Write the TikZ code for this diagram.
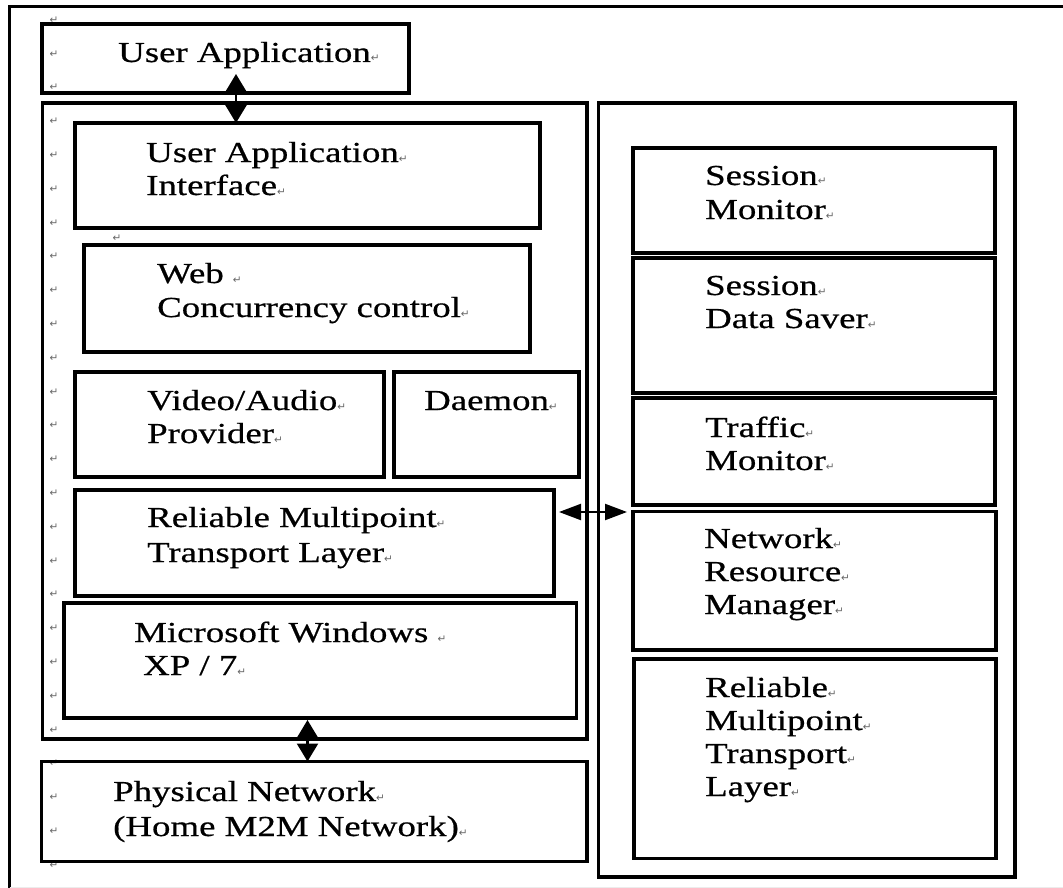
\documentclass[tikz,border=0pt]{standalone}
\usepackage{fontspec}
\setmainfont[FakeStretch=1.27,FakeBold=0.6]{Liberation Serif}
\newfontfamily\markfont{DejaVu Sans}
\usetikzlibrary{arrows.meta}
% paragraph mark as shown by the word processor
\newcommand\retmark{{\markfont\fontsize{10.5}{10.5}\selectfont\color{black!60}↵}}
% a box given by its top-left corner, width and height (in px)
\newcommand\layerbox[5]{\node[layer, minimum width=#4pt, minimum height=#5pt] (#1) at (#2,#3) {};}

\tikzset{
  layer/.style={draw, line width=3.2pt, anchor=north west, inner sep=0pt, outer sep=0pt},
  lbl/.style={anchor=base west, inner sep=0pt, font=\fontsize{29}{33}\selectfont},
  mk/.style={anchor=center, inner sep=0pt},
  vdbl/.style={line width=2.4pt,
    {Triangle[length=18pt,width=21pt]}-{Triangle[length=18pt,width=21pt]}},
  hdbl/.style={line width=2.2pt,
    {Triangle[length=22pt,width=16pt]}-{Triangle[length=22pt,width=16pt]}},
}

\begin{document}
\begin{tikzpicture}[x=1pt,y=-1pt]
\useasboundingbox (0,0) rectangle (1063,888);

% page frame
\draw[line width=3pt] (1063,6.5) -- (9.5,6.5) -- (9.5,888);
\draw[line width=1pt, gray!15] (9.5,887) -- (1063,887);

% margin paragraph marks
\foreach \k in {0,...,25}
  \node[mk] (m\k) at (54,{20+33.8*\k}) {\retmark};
\node[mk] (mweb) at (117,238) {\retmark};

% left stack
\layerbox{ua}{42}{24}{367}{69}
\layerbox{lc}{42.5}{103}{544.5}{636}
\layerbox{uai}{75}{123}{465}{105}
\layerbox{web}{84}{245}{446}{107}
\layerbox{vap}{75}{372}{309}{105}
\layerbox{dae}{394}{372}{185}{105}
\layerbox{rmtl}{75}{490}{479}{106}
\layerbox{msw}{64}{603}{512.5}{115}
\layerbox{pn}{41.5}{761.5}{545.5}{100}

% right stack
\layerbox{rc}{598.5}{103}{416.5}{774}
\layerbox{sm}{633}{148}{362}{105}
\layerbox{sds}{633}{258}{362}{135}
\layerbox{tm}{633}{398}{362}{107}
\layerbox{nrm}{633}{511.5}{363}{138.5}
\layerbox{rmt}{634}{659}{362}{199.5}

% labels
\node[lbl] (tua) at (118,62) {User Application\retmark};
\node[lbl] (tuai1) at (146,162) {User Application\retmark};
\node[lbl] (tuai2) at (146,195) {Interface\retmark};
\node[lbl] (tweb1) at (157,283) {Web \retmark};
\node[lbl] (tweb2) at (157,317) {Concurrency control\retmark};
\node[lbl] (tvap1) at (147,410) {Video/Audio\retmark};
\node[lbl] (tvap2) at (147,443) {Provider\retmark};
\node[lbl] (tdae) at (424,410) {Daemon\retmark};
\node[lbl] (trmtl1) at (147,527) {Reliable Multipoint\retmark};
\node[lbl] (trmtl2) at (147,562) {Transport Layer\retmark};
\node[lbl] (tmsw1) at (134,642) {Microsoft Windows \retmark};
\node[lbl] (tmsw2) at (143,675) {XP / 7\retmark};
\node[lbl] (tpn1) at (113,801) {Physical Network\retmark};
\node[lbl] (tpn2) at (113,836) {(Home M2M Network)\retmark};

\node[lbl] (tsm1) at (705,185) {Session\retmark};
\node[lbl] (tsm2) at (705,219) {Monitor\retmark};
\node[lbl] (tsds1) at (705,295) {Session\retmark};
\node[lbl] (tsds2) at (705,328) {Data Saver\retmark};
\node[lbl] (ttm1) at (705,437) {Traffic\retmark};
\node[lbl] (ttm2) at (705,470) {Monitor\retmark};
\node[lbl] (tnrm1) at (704,548) {Network\retmark};
\node[lbl] (tnrm2) at (704,581) {Resource\retmark};
\node[lbl] (tnrm3) at (704,614) {Manager\retmark};
\node[lbl] (trmt1) at (705,697) {Reliable\retmark};
\node[lbl] (trmt2) at (705,730) {Multipoint\retmark};
\node[lbl] (trmt3) at (705,763) {Transport\retmark};
\node[lbl] (trmt4) at (705,796) {Layer\retmark};

% connectors
\coordinate (ax) at (236,0);
\coordinate (bx) at (307.5,0);
\coordinate (cy) at (0,512);
\draw[vdbl, shorten <=-19pt] (ua.south -| ax) -- (uai.north -| ax);
\draw[vdbl, shorten <=2pt] (msw.south -| bx) -- (pn.north -| bx);
\draw[hdbl, shorten <=5pt, shorten >=6pt] (rmtl.east |- cy) -- (nrm.west |- cy);
\end{tikzpicture}
\end{document}
